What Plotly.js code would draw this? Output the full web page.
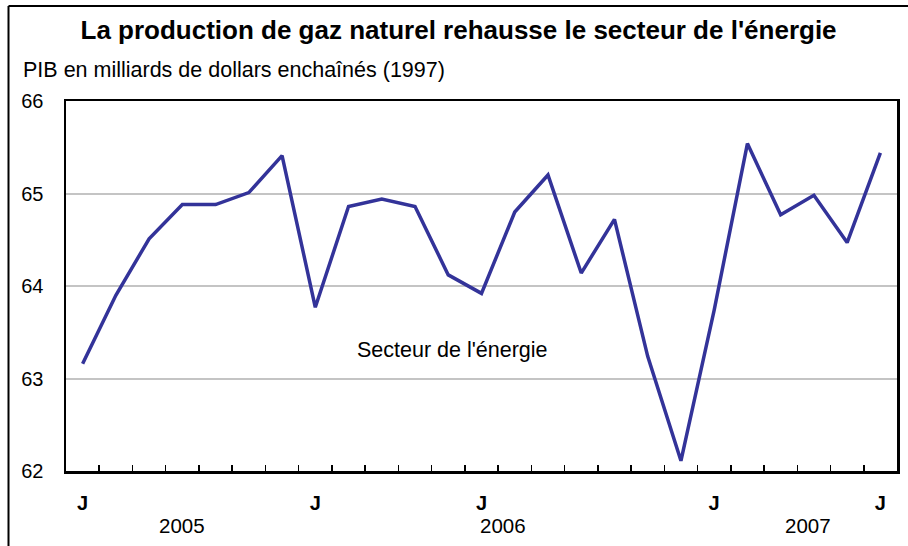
<!DOCTYPE html>
<html>
<head>
<meta charset="utf-8">
<script src="https://cdn.plot.ly/plotly-3.0.1.min.js"></script>
<style>
  html, body { margin: 0; padding: 0; background: #ffffff; }
  #chart { width: 908px; height: 546px; }
</style>
</head>
<body>
<div id="chart"></div>
<script>
// Monthly categories, June 2005 to June 2007
const months = [
  "2005-06", "2005-07", "2005-08", "2005-09", "2005-10", "2005-11", "2005-12",
  "2006-01", "2006-02", "2006-03", "2006-04", "2006-05", "2006-06", "2006-07",
  "2006-08", "2006-09", "2006-10", "2006-11", "2006-12",
  "2007-01", "2007-02", "2007-03", "2007-04", "2007-05", "2007-06"
];
// GDP of the energy sector, billions of chained (1997) dollars
const energyGDP = [
  63.16, 63.90, 64.51, 64.88, 64.88, 65.01, 65.41,
  63.77, 64.86, 64.94, 64.86, 64.12, 63.92, 64.80,
  65.20, 64.14, 64.72, 63.24, 62.11,
  63.74, 65.54, 64.77, 64.98, 64.47, 65.44
];
// Tick labels (J = juin / janvier)
const tickLabels = [
  "J", "", "", "", "", "", "",
  "J", "", "", "", "", "J", "",
  "", "", "", "", "",
  "J", "", "", "", "", "J"
];
const yearLabels = ["2005", "2006", "2007"];
const yTicks = [62, 63, 64, 65, 66];

const titleText = "La production de gaz naturel rehausse le secteur de l'énergie";
const subtitleText = "PIB en milliards de dollars enchaînés (1997)";
const seriesLabel = "Secteur de l'énergie";

const font = "Liberation Sans, Arial, sans-serif";

const trace = {
  type: "scatter",
  mode: "lines",
  x: months,
  y: energyGDP,
  line: { color: "#333399", width: 3.5 },
  hoverinfo: "x+y",
  showlegend: false
};

const yearPos = [0.1396, 0.526, 0.893];

const layout = {
  width: 908,
  height: 546,
  margin: { l: 66, r: 11, t: 101, b: 75 },
  paper_bgcolor: "#ffffff",
  plot_bgcolor: "#ffffff",
  title: {
    text: "<b>" + titleText + "</b>",
    font: { family: font, size: 26, color: "#000000" },
    xref: "container", x: 0.505, xanchor: "center",
    yref: "container", y: 1 - 30 / 546, yanchor: "middle"
  },
  xaxis: {
    type: "category",
    range: [-0.5, months.length - 0.5],
    tickmode: "array",
    tickvals: months,
    ticktext: tickLabels.map(t => t ? "<b>" + t + "</b>" : ""),
    tickson: "boundaries",
    ticks: "inside",
    ticklen: 6,
    tickwidth: 1.5,
    tickcolor: "#000000",
    ticklabelstandoff: 12,
    tickfont: { family: font, size: 20, color: "#000000" },
    showgrid: false,
    showline: true,
    linecolor: "#000000",
    linewidth: 2.5,
    mirror: true,
    zeroline: false,
    fixedrange: true
  },
  yaxis: {
    range: [62, 66],
    tickmode: "array",
    tickvals: yTicks,
    ticktext: yTicks.map(String),
    ticks: "",
    ticklabelstandoff: 16,
    tickfont: { family: font, size: 20, color: "#000000" },
    showgrid: true,
    gridcolor: "#c4c4c4",
    gridwidth: 2,
    showline: true,
    linecolor: "#000000",
    linewidth: 2.5,
    mirror: true,
    zeroline: false,
    fixedrange: true
  },
  annotations: [
    {
      text: subtitleText,
      xref: "paper", yref: "paper",
      x: (21 - 66) / 831, y: (471 - 70) / 370,
      xanchor: "left", yanchor: "middle",
      showarrow: false,
      font: { family: font, size: 21.5, color: "#000000" }
    },
    {
      text: seriesLabel,
      xref: "paper", yref: "paper",
      x: (355 - 66) / 831, y: (471 - 350) / 370,
      xanchor: "left", yanchor: "middle",
      showarrow: false,
      font: { family: font, size: 21.5, color: "#000000" }
    }
  ].concat(yearLabels.map((t, i) => ({
      text: t,
      xref: "paper", yref: "paper",
      x: yearPos[i], y: (471 - 525) / 370,
      xanchor: "center", yanchor: "middle",
      showarrow: false,
      font: { family: font, size: 20.5, color: "#000000" }
  }))),
  shapes: [
    {
      type: "line", xref: "paper", yref: "paper",
      x0: (8.5 - 66) / 831, x1: (8.5 - 66) / 831,
      y0: (471 - 6) / 370, y1: (471 - 560) / 370,
      line: { color: "#000000", width: 2 }
    },
    {
      type: "line", xref: "paper", yref: "paper",
      x0: (8.5 - 66) / 831, x1: (920 - 66) / 831,
      y0: (471 - 6) / 370, y1: (471 - 6) / 370,
      line: { color: "#000000", width: 2 }
    }
  ]
};

Plotly.newPlot("chart", [trace], layout, { displayModeBar: false, staticPlot: true });
</script>
</body>
</html>
